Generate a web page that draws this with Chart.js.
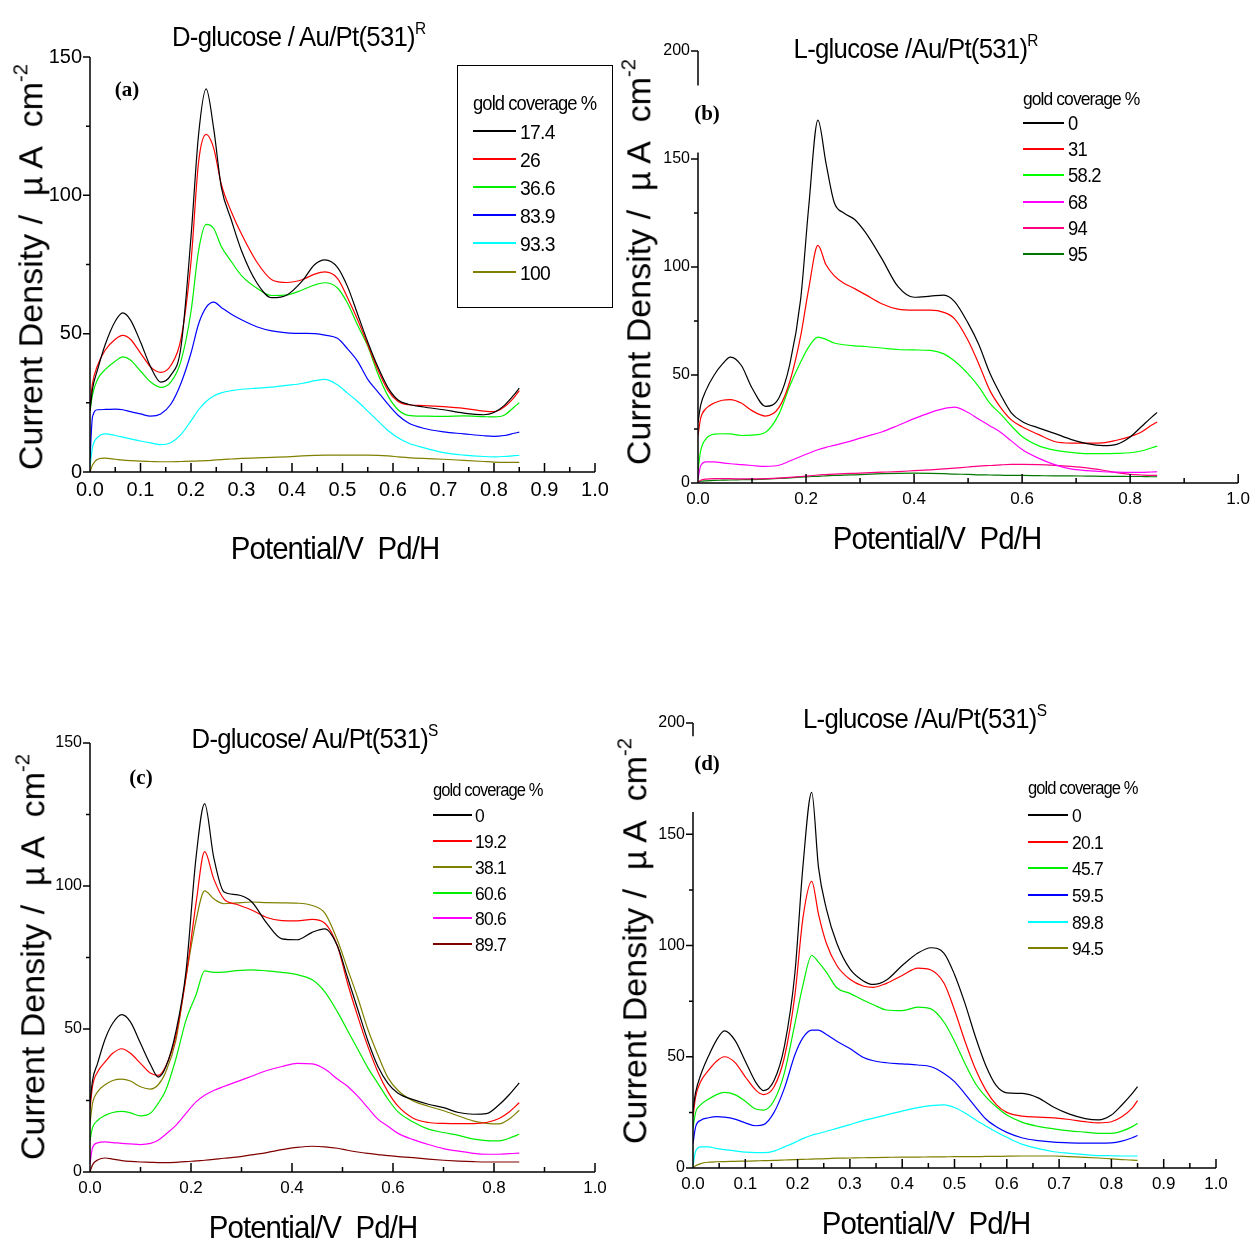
<!DOCTYPE html>
<html>
<head>
<meta charset="utf-8">
<script src="https://cdn.jsdelivr.net/npm/chart.js@4.4.1/dist/chart.umd.min.js"></script>
<style>
  body { margin: 0; background: #fff; width: 1256px; height: 1243px; position: relative; overflow: hidden; }
  canvas { position: absolute; left: 0; top: 0; }
  .t { position: absolute; white-space: nowrap; color: #000; line-height: 1; transform: translate(-50%, -50%);
       font-family: 'Liberation Sans', Arial, sans-serif; }
  .l { transform: translate(0, -50%) scaleX(0.92); transform-origin: 0 50%; }
  .rot { transform: translate(-50%, -50%) rotate(-90deg); font-size: 34px; }
  .ttl { font-size: 28px; letter-spacing: -0.8px; transform: translate(-50%, -50%) scaleX(0.92); }
  .ax { font-size: 32px; letter-spacing: -1px; transform: translate(-50%, -50%) scaleX(0.92); }
  .tag { font-family: 'Liberation Serif', 'Times New Roman', serif; font-weight: bold; font-size: 21px; }
  sup { font-size: 60%; vertical-align: 0.75em; letter-spacing: 0; }
  .box { position: absolute; border: 1px solid #000; }
  .sw { position: absolute; height: 1.5px; margin-top: -0.75px; }
</style>
</head>
<body>
<canvas id="chartA" width="1256" height="1243"></canvas>
<canvas id="chartB" width="1256" height="1243"></canvas>
<canvas id="chartC" width="1256" height="1243"></canvas>
<canvas id="chartD" width="1256" height="1243"></canvas>
<div id="texts"></div>
<script>
// (a) D-glucose / Au/Pt(531)R
const potA = [0, 0.005, 0.015, 0.03, 0.05, 0.065, 0.08, 0.1, 0.12, 0.14, 0.16, 0.18, 0.2, 0.215, 0.23, 0.245, 0.26, 0.28, 0.3, 0.33, 0.36, 0.39, 0.42, 0.445, 0.465, 0.49, 0.51, 0.53, 0.55, 0.57, 0.59, 0.61, 0.63, 0.66, 0.7, 0.74, 0.78, 0.8, 0.82, 0.84, 0.85];
const coverageA = ["17.4", "26", "36.6", "83.9", "93.3", "100"];
const curA_174 = [22, 30, 37, 46, 54.5, 57.5, 55, 47, 38, 32.5, 35, 45, 85, 122, 138.5, 124, 103, 91, 80, 68.5, 63, 64, 69, 75, 76.7, 74, 67, 57, 47, 38, 30.5, 26, 24.5, 23.5, 22.5, 21.3, 20.7, 21.5, 24, 28, 30.3];
const curA_26 = [24, 32, 38.5, 44, 48, 49.4, 48, 43, 38, 36, 38.5, 48, 76, 112, 122, 117, 104, 94, 86, 76, 69.5, 68.5, 69.5, 71.5, 72.3, 70, 63, 55, 46, 37, 29.5, 25.5, 24.3, 24, 23.6, 23, 22, 21.8, 23.5, 27, 29.4];
const curA_366 = [22, 28, 33.5, 37, 40, 41.6, 40.5, 36.5, 32.5, 30.6, 32.5, 40, 58, 80, 89.5, 88, 81.5, 76, 71, 66.5, 63.8, 64, 65.8, 67.6, 68.4, 66.5, 61, 53, 45.5, 35.5, 27.5, 22.5, 20.5, 20.2, 20.1, 20.3, 20, 19.9, 20.5, 23.5, 25];
const curA_839 = [5, 20, 22.5, 22.6, 22.7, 22.5, 21.8, 21, 20.2, 21, 24.5, 32, 43, 53.5, 59.5, 61.4, 59.5, 57, 55, 52.5, 51, 50.3, 50.1, 50, 49.5, 48.3, 44.5, 40, 33.5, 29, 24.5, 20.5, 17.8, 15.8, 14.5, 13.8, 13.1, 12.9, 13.2, 14, 14.4];
const curA_933 = [2, 9, 12.5, 13.8, 13.2, 12.6, 12, 11.2, 10.5, 9.9, 10.6, 13.5, 18.5, 22.5, 25.5, 27.5, 28.6, 29.4, 29.9, 30.3, 30.7, 31.3, 32, 33, 33.5, 31.5, 28.5, 25.5, 22, 18.5, 15, 12.4, 10.5, 8.8, 7, 6.1, 5.6, 5.5, 5.6, 5.9, 6];
const curA_100 = [0, 2.5, 4.6, 5, 4.6, 4.3, 4.1, 3.9, 3.8, 3.7, 3.7, 3.8, 3.9, 4, 4.1, 4.3, 4.5, 4.7, 4.9, 5.1, 5.3, 5.5, 5.8, 6, 6.1, 6.1, 6.1, 6.1, 6.1, 6, 5.8, 5.5, 5.2, 4.9, 4.6, 4.2, 3.8, 3.6, 3.5, 3.5, 3.5];

// (b) L-glucose /Au/Pt(531)R
const potB = [0, 0.005, 0.015, 0.03, 0.045, 0.06, 0.08, 0.1, 0.125, 0.15, 0.17, 0.19, 0.205, 0.222, 0.237, 0.252, 0.27, 0.29, 0.31, 0.34, 0.37, 0.4, 0.43, 0.455, 0.475, 0.5, 0.52, 0.54, 0.56, 0.58, 0.6, 0.63, 0.66, 0.69, 0.72, 0.75, 0.775, 0.8, 0.82, 0.84, 0.85];
const coverageB = ["0", "31", "58.2", "68", "94", "95"];
const curB_0 = [28, 36, 43, 50, 55, 58.3, 54.5, 44, 35.5, 39.5, 55, 85, 128, 168, 148, 130, 125, 122, 116, 104, 91, 86, 86.5, 87, 84, 74, 64, 51, 41, 32.5, 28.5, 25.5, 23, 20.2, 18.2, 17.3, 17.9, 21.3, 25.9, 30.5, 32.6];
const curB_31 = [22, 30, 34.5, 37, 38.3, 38.6, 37, 33.5, 31, 35, 47, 68, 90, 110, 101, 96, 92.5, 90, 87.2, 83, 80.5, 80, 80, 79, 76, 66, 55, 43, 35, 29.2, 26, 22.5, 19.2, 18.5, 18.5, 18.6, 19.8, 21.5, 23.5, 26.8, 28.2];
const curB_582 = [6, 15, 20.5, 22.6, 22.8, 22.7, 22, 22.2, 23.5, 32, 45, 56, 63, 67.5, 66.5, 64.8, 64, 63.5, 63.2, 62.5, 61.8, 61.6, 61.4, 59.8, 56.5, 50.5, 44.5, 37, 32, 26.5, 21.5, 17.3, 15.2, 14.2, 13.6, 13.6, 13.7, 14, 14.8, 16.3, 17.1];
const curB_68 = [2, 8, 9.8, 9.8, 9.3, 8.9, 8.5, 8.1, 7.7, 8.2, 10.2, 12.3, 13.8, 15.4, 16.5, 17.4, 18.6, 20, 21.5, 23.6, 26.6, 29.8, 32.6, 34.4, 35.1, 32.6, 29.5, 26.5, 23.5, 19.5, 15.5, 11.5, 8.5, 6.5, 5.7, 5.2, 5, 4.9, 4.9, 5.1, 5.2];
const curB_94 = [0.5, 1.3, 1.8, 2, 2, 2, 1.9, 1.9, 2, 2.3, 2.6, 3, 3.3, 3.7, 3.9, 4.1, 4.3, 4.5, 4.7, 5, 5.3, 5.7, 6.1, 6.5, 6.9, 7.4, 7.8, 8.1, 8.4, 8.6, 8.6, 8.5, 8.2, 7.7, 7, 5.9, 4.8, 4, 3.7, 3.5, 3.5];
const curB_95 = [0.5, 0.8, 1, 1.2, 1.3, 1.4, 1.5, 1.6, 1.8, 2.1, 2.4, 2.7, 2.9, 3.1, 3.3, 3.5, 3.6, 3.8, 4, 4.3, 4.5, 4.6, 4.5, 4.3, 4.1, 4, 3.8, 3.7, 3.6, 3.5, 3.5, 3.4, 3.3, 3.3, 3.2, 3.1, 3.1, 3, 3, 2.9, 2.9];

// (c) D-glucose/ Au/Pt(531)S
const potC = [0, 0.005, 0.015, 0.03, 0.045, 0.063, 0.08, 0.1, 0.12, 0.135, 0.15, 0.17, 0.19, 0.21, 0.227, 0.245, 0.265, 0.29, 0.32, 0.35, 0.38, 0.41, 0.44, 0.465, 0.49, 0.51, 0.53, 0.55, 0.57, 0.59, 0.61, 0.64, 0.67, 0.7, 0.73, 0.76, 0.785, 0.81, 0.83, 0.85];
const coverageC = ["0", "19.2", "38.1", "60.6", "80.6", "89.7"];
const curC_0 = [24, 32, 38, 46.5, 52, 55, 52.5, 45, 37.5, 33.2, 36.7, 49, 70, 110, 128.8, 110, 98, 97, 94.5, 87, 81.5, 81.2, 83.8, 85, 79, 68, 57, 46, 37, 31, 27.5, 25.3, 23.7, 22.5, 20.8, 20.2, 20.4, 23.5, 27, 31.2];
const curC_192 = [22, 30, 35, 38.5, 41.5, 43.1, 41.5, 38, 34.5, 33.8, 37, 47.5, 68, 94, 112, 102.5, 95.5, 93.6, 91.6, 89, 87.9, 87.8, 88.3, 87, 79, 66, 54.5, 44, 35, 28, 23, 18.8, 17.3, 17, 16.9, 16.9, 17.3, 18.7, 21, 24.2];
const curC_381 = [17, 24, 28, 30.5, 32, 32.5, 31.8, 29.8, 29, 30.5, 35, 46, 68, 88, 98.3, 95.5, 93.8, 94.1, 94.4, 94.2, 94.1, 94, 93.2, 90.5, 81, 71, 61, 50, 41, 33, 28.5, 24.8, 23, 21.4, 19.6, 17.8, 17, 16.8, 18.5, 21.6];
const curC_606 = [11, 15.5, 18, 19.8, 20.8, 21.2, 20.7, 19.6, 20.6, 24, 28.6, 39.5, 53, 62, 70.3, 69.8, 69.9, 70.4, 70.7, 70.3, 69.8, 69, 67.2, 63, 56, 49.5, 43, 36.5, 31, 25.5, 21, 17.5, 15, 13.8, 12.8, 11.5, 11, 10.9, 11.8, 13.2];
const curC_806 = [3, 8.5, 10.2, 10.5, 10.3, 10, 9.8, 9.6, 10, 11.1, 13.2, 16.3, 20.5, 24.5, 26.8, 28.5, 29.9, 31.5, 33.5, 35.5, 36.9, 38, 37.8, 36, 32.5, 30, 26.5, 22.5, 18.5, 16, 13.5, 11.3, 9.6, 8.2, 7.3, 6.5, 6.2, 6.2, 6.4, 6.6];
const curC_897 = [0, 2.5, 4.2, 4.9, 4.5, 4, 3.7, 3.5, 3.4, 3.3, 3.3, 3.4, 3.6, 3.9, 4.1, 4.4, 4.8, 5.2, 6, 6.8, 7.8, 8.6, 9, 8.8, 8.3, 7.6, 7, 6.5, 6.1, 5.7, 5.4, 5, 4.5, 4.1, 3.8, 3.6, 3.5, 3.5, 3.5, 3.5];

// (d) L-glucose /Au/Pt(531)S
const potD = [0, 0.005, 0.015, 0.03, 0.045, 0.06, 0.08, 0.1, 0.12, 0.135, 0.155, 0.175, 0.195, 0.21, 0.227, 0.24, 0.255, 0.275, 0.3, 0.325, 0.345, 0.37, 0.4, 0.43, 0.455, 0.48, 0.5, 0.52, 0.54, 0.56, 0.58, 0.6, 0.63, 0.66, 0.69, 0.72, 0.75, 0.775, 0.8, 0.82, 0.84, 0.85];
const coverageD = ["0", "20.1", "45.7", "59.5", "89.8", "94.5"];
const curD_0 = [26, 34, 42, 50.5, 57.5, 61.6, 57.5, 48, 38.5, 34.8, 39.3, 55, 88, 135, 168.8, 135, 116.5, 101, 89.5, 84.2, 82.5, 84.5, 91, 96.6, 99, 96.5, 87, 74, 59, 46, 37, 33.8, 33.5, 31.5, 27.3, 24.2, 22.2, 21.6, 23.8, 28.3, 33.5, 36.6];
const curD_201 = [23, 32, 39, 44, 48, 50, 47.5, 41, 35, 33, 36.5, 50, 78, 112, 128.8, 114, 101, 91, 84.8, 81.8, 81.2, 83, 86.5, 89.8, 89, 83, 71, 57, 44.5, 35, 28.5, 25, 23.3, 22.9, 22.5, 21.8, 20.8, 20.3, 20.8, 23, 27, 30.3];
const curD_457 = [18, 25, 28.5, 31, 33, 34, 33, 30, 26.5, 26, 30.3, 43, 65, 82, 95.5, 92.5, 88, 81, 78.5, 75.5, 73.4, 71, 70.7, 72.3, 71.5, 65.5, 57, 47, 38, 32, 27.5, 23.8, 20.5, 18.7, 17.6, 16.7, 16.1, 15.6, 15.6, 16.6, 18.6, 20.1];
const curD_595 = [11, 18.5, 21.5, 22.6, 23.1, 22.9, 22, 20.3, 19, 19.5, 25, 36, 51, 58.5, 62, 62, 60, 57, 53.7, 49.8, 48.2, 47.3, 46.8, 46.3, 45.5, 42.5, 38.8, 33.3, 27.5, 22, 18.5, 16, 13.5, 12.3, 11.6, 11.3, 11.2, 11.2, 11.3, 12.1, 13.6, 14.6];
const curD_898 = [1, 7.5, 9.5, 9.5, 8.8, 8.3, 7.7, 7.1, 6.9, 6.9, 7.6, 9.5, 11.5, 13.2, 14.7, 15.5, 16.5, 17.8, 19.5, 21.3, 22.4, 23.9, 25.6, 27.1, 28, 28.4, 27.2, 24.7, 21.7, 18.9, 16.2, 13.8, 10.6, 8.7, 7.3, 6.6, 6, 5.6, 5.5, 5.4, 5.4, 5.4];
const curD_945 = [0, 1, 2, 2.6, 2.8, 2.9, 3, 3.1, 3.2, 3.3, 3.4, 3.6, 3.8, 3.9, 4, 4.1, 4.2, 4.4, 4.5, 4.6, 4.7, 4.8, 4.9, 4.9, 5, 5, 5.1, 5.1, 5.1, 5.2, 5.2, 5.3, 5.4, 5.4, 5.4, 5.1, 4.8, 4.5, 4.1, 3.8, 3.5, 3.4];

const yTickValues = [0, 50, 100, 150, 200];

// styles
const colorsA = ["#000000", "#ff0000", "#00ee00", "#0000ff", "#00ffff", "#808000"];
const colorsB = ["#000000", "#ff0000", "#00ff00", "#ff00ff", "#ff0080", "#007700"];
const colorsC = ["#000000", "#ff0000", "#808000", "#00ee00", "#ff00ff", "#800000"];
const colorsD = ["#000000", "#ff0000", "#00ee00", "#0000ff", "#00ffff", "#808000"];

const FONT = "'Liberation Sans', Arial, sans-serif";
const Y_BOX = 60;   // width reserved for y tick labels
const X_BOX = 40;   // height reserved for x tick labels

// axis lines + inward x ticks, outward y ticks, optional broken y axis
const axisFrame = {
  id: 'axisFrame',
  afterDraw(chart, args, opts) {
    const { ctx, chartArea: area } = chart;
    const x = chart.scales.x, y = chart.scales.y;
    ctx.save();
    ctx.strokeStyle = '#000';
    ctx.lineWidth = 1.5;
    ctx.beginPath();
    ctx.moveTo(area.left, area.bottom);
    ctx.lineTo(area.right, area.bottom);
    const top = y.getPixelForValue(y.max);
    if (opts.yBreak) {
      ctx.moveTo(area.left, area.bottom);
      ctx.lineTo(area.left, y.getPixelForValue(opts.yBreak[0]));
      ctx.moveTo(area.left, y.getPixelForValue(opts.yBreak[1]));
      ctx.lineTo(area.left, top);
    } else {
      ctx.moveTo(area.left, area.bottom);
      ctx.lineTo(area.left, top);
    }
    const nx = Math.round((x.max - x.min) / opts.xMinor);
    for (let i = 0; i <= nx; i++) {
      const v = x.min + i * opts.xMinor;
      const r = v / opts.xMajor;
      const major = Math.abs(r - Math.round(r)) < 1e-6;
      const px = x.getPixelForValue(v);
      ctx.moveTo(px, area.bottom);
      ctx.lineTo(px, area.bottom - (major ? 9 : 5));
    }
    const ny = Math.round((y.max - y.min) / 25);
    for (let i = 0; i <= ny; i++) {
      const v = y.min + i * 25;
      if (opts.yBreak && v > opts.yBreak[0] && v < opts.yBreak[1]) continue;
      const py = y.getPixelForValue(v);
      ctx.moveTo(area.left, py);
      ctx.lineTo(area.left - (i % 2 === 0 ? 7 : 4), py);
    }
    ctx.stroke();
    ctx.restore();
  }
};

function makePanel(p) {
  const datasets = p.series.map((vals, i) => ({
    label: p.coverage[i],
    data: vals.map((v, k) => ({ x: p.pot[k], y: v })),
    borderColor: p.colors[i],
    borderWidth: 1.2,
    pointRadius: 0,
    cubicInterpolationMode: 'monotone',
    fill: false
  }));
  new Chart(document.getElementById(p.id), {
    type: 'line',
    data: { datasets },
    options: {
      responsive: false,
      animation: false,
      events: [],
      layout: {
        padding: {
          left: p.area.left - Y_BOX, top: p.area.top,
          right: 1256 - p.area.right, bottom: 1243 - p.area.bottom - X_BOX
        }
      },
      plugins: {
        legend: { display: false },
        tooltip: { enabled: false },
        axisFrame: { xMinor: p.xMinor, xMajor: p.xMajor, yBreak: p.yBreak }
      },
      scales: {
        x: {
          type: 'linear', min: 0, max: 1,
          border: { display: false },
          grid: { display: false, drawTicks: false },
          afterFit: s => { s.height = X_BOX; },
          afterBuildTicks: s => {
            const n = Math.round(1 / p.xMajor);
            s.ticks = Array.from({ length: n + 1 }, (_, i) => ({ value: i * p.xMajor }));
          },
          ticks: {
            padding: p.xPad, color: '#000', maxRotation: 0, autoSkip: false,
            font: { family: FONT, size: p.xFont },
            callback: v => v.toFixed(1)
          }
        },
        y: {
          min: 0, max: p.yMax,
          border: { display: false },
          grid: { display: false, drawTicks: false },
          afterFit: s => { s.width = Y_BOX; },
          afterBuildTicks: s => {
            s.ticks = yTickValues.filter(v => v <= p.yMax).map(v => ({ value: v }));
          },
          ticks: {
            padding: 8, color: '#000', autoSkip: false,
            font: { family: FONT, size: p.yFont },
            callback: v => String(v)
          }
        }
      }
    },
    plugins: [axisFrame]
  });
}

const panels = [
  { id: 'chartA', pot: potA, coverage: coverageA, colors: colorsA,
    series: [curA_174, curA_26, curA_366, curA_839, curA_933, curA_100],
    area: { left: 90, top: 57, right: 595, bottom: 472 }, yMax: 150,
    xMajor: 0.1, xMinor: 0.05, xFont: 20, yFont: 20, xPad: 6, yBreak: null },
  { id: 'chartB', pot: potB, coverage: coverageB, colors: colorsB,
    series: [curB_0, curB_31, curB_582, curB_68, curB_94, curB_95],
    area: { left: 698, top: 51, right: 1241, bottom: 483 }, yMax: 200,
    xMajor: 0.2, xMinor: 0.1, xFont: 17, yFont: 16, xPad: 6, yBreak: [153, 184] },
  { id: 'chartC', pot: potC, coverage: coverageC, colors: colorsC,
    series: [curC_0, curC_192, curC_381, curC_606, curC_806, curC_897],
    area: { left: 90, top: 743, right: 595, bottom: 1172 }, yMax: 150,
    xMajor: 0.2, xMinor: 0.1, xFont: 17, yFont: 16, xPad: 6, yBreak: null },
  { id: 'chartD', pot: potD, coverage: coverageD, colors: colorsD,
    series: [curD_0, curD_201, curD_457, curD_595, curD_898, curD_945],
    area: { left: 693, top: 723, right: 1216, bottom: 1168 }, yMax: 200,
    xMajor: 0.1, xMinor: 0.05, xFont: 17, yFont: 16, xPad: 6, yBreak: [160, 194] }
];
panels.forEach(makePanel);

// texts
const layer = document.getElementById('texts');
function put(html, cx, cy, cls, size) {
  const d = document.createElement('div');
  d.className = 't ' + (cls || '');
  d.innerHTML = html;
  d.style.left = cx + 'px';
  d.style.top = cy + 'px';
  if (size) d.style.fontSize = size + 'px';
  layer.appendChild(d);
  return d;
}
const yTitle = 'Current Density /&nbsp; &micro; A&nbsp; cm<sup>-2</sup>';
const xTitle = 'Potential/V&nbsp; Pd/H';

put('D-glucose / Au/Pt(531)<sup>R</sup>', 299, 36, 'ttl');
put('L-glucose /Au/Pt(531)<sup>R</sup>', 916, 48, 'ttl');
put('D-glucose/ Au/Pt(531)<sup>S</sup>', 315, 738, 'ttl');
put('L-glucose /Au/Pt(531)<sup>S</sup>', 925, 718, 'ttl');

put(yTitle, 29, 267, 'rot');
put(yTitle, 637, 262, 'rot');
put(yTitle, 31, 957, 'rot');
put(yTitle, 633, 941, 'rot');

put(xTitle, 335, 548, 'ax');
put(xTitle, 937, 538, 'ax');
put(xTitle, 313, 1227, 'ax');
put(xTitle, 926, 1223, 'ax');

put('(a)', 127, 89, 'tag');
put('(b)', 707, 113, 'tag');
put('(c)', 141, 777, 'tag');
put('(d)', 707, 763, 'tag');

// legends
const boxA = document.createElement('div');
boxA.className = 'box';
Object.assign(boxA.style, { left: '457px', top: '65px', width: '154px', height: '241px' });
layer.appendChild(boxA);

function legend(coverage, colors, x0, x1, xt, yTitleC, ys, size) {
  put('gold coverage %', x0, yTitleC, 'l', size).style.letterSpacing = '-1px';
  coverage.forEach((c, i) => {
    const sw = document.createElement('div');
    sw.className = 'sw';
    Object.assign(sw.style, { left: x0 + 'px', top: ys[i] + 'px', width: (x1 - x0) + 'px', background: colors[i] });
    layer.appendChild(sw);
    put(c, xt, ys[i], 'l', size + 1).style.letterSpacing = '-0.8px';
  });
}
legend(coverageA, colorsA, 473, 516, 520, 103, [131, 159, 187, 215, 243, 272], 20);
legend(coverageB, colorsB, 1023, 1064, 1068, 98, [123, 149, 175, 202, 228, 254], 19);
legend(coverageC, colorsC, 433, 472, 475, 790, [815, 841, 867, 893, 918, 944], 18);
legend(coverageD, colorsD, 1028, 1068, 1072, 788, [815, 842, 868, 895, 922, 948], 18);
</script>
</body>
</html>
